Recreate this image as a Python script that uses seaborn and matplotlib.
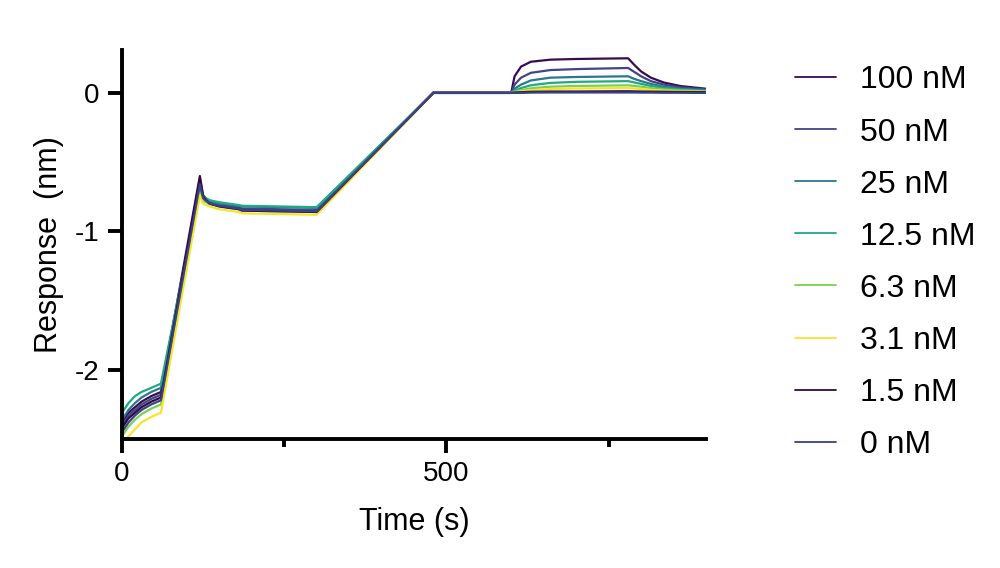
import matplotlib
matplotlib.use("Agg")
import matplotlib.pyplot as plt
import seaborn as sns
import pandas as pd
from matplotlib.ticker import FixedLocator

# ---- data ----
time_s = [0, 10, 20, 30, 45, 60, 120, 125, 135, 150, 180, 185, 240, 300,
          480, 600, 605, 615, 630, 660, 700, 780, 790, 800, 815, 835, 860, 900]

concentrations = ["100 nM", "50 nM", "25 nM", "12.5 nM", "6.3 nM", "3.1 nM", "1.5 nM", "0 nM"]

resp_100 = [-2.38, -2.31, -2.27, -2.23, -2.19, -2.16, -0.60, -0.74, -0.79, -0.81, -0.83, -0.845, -0.85, -0.855,
            0.005, 0.005, 0.12, 0.19, 0.225, 0.24, 0.245, 0.25, 0.20, 0.155, 0.11, 0.075, 0.05, 0.03]
resp_50 = [-2.40, -2.33, -2.29, -2.25, -2.21, -2.18, -0.68, -0.76, -0.795, -0.81, -0.825, -0.835, -0.84, -0.845,
           0.0, 0.0, 0.06, 0.11, 0.145, 0.165, 0.172, 0.18, 0.15, 0.12, 0.085, 0.06, 0.04, 0.025]
resp_25 = [-2.36, -2.29, -2.24, -2.20, -2.16, -2.13, -0.70, -0.75, -0.78, -0.80, -0.815, -0.82, -0.825, -0.83,
           0.0, 0.0, 0.03, 0.06, 0.09, 0.11, 0.115, 0.12, 0.10, 0.085, 0.065, 0.045, 0.03, 0.02]
resp_12_5 = [-2.31, -2.24, -2.19, -2.16, -2.13, -2.10, -0.70, -0.75, -0.775, -0.79, -0.81, -0.815, -0.82, -0.825,
             0.0, 0.0, 0.015, 0.035, 0.055, 0.072, 0.08, 0.085, 0.075, 0.065, 0.05, 0.035, 0.025, 0.015]
resp_6_3 = [-2.48, -2.41, -2.36, -2.32, -2.28, -2.25, -0.72, -0.78, -0.80, -0.82, -0.84, -0.85, -0.855, -0.86,
            0.0, 0.0, 0.01, 0.02, 0.033, 0.045, 0.05, 0.055, 0.05, 0.045, 0.035, 0.025, 0.018, 0.01]
resp_3_1 = [-2.56, -2.48, -2.43, -2.38, -2.34, -2.31, -0.74, -0.80, -0.82, -0.84, -0.86, -0.87, -0.875, -0.88,
            0.0, 0.0, 0.005, 0.012, 0.02, 0.028, 0.032, 0.035, 0.032, 0.028, 0.022, 0.016, 0.012, 0.008]
resp_1_5 = [-2.42, -2.35, -2.31, -2.27, -2.23, -2.20, -0.62, -0.75, -0.80, -0.82, -0.84, -0.85, -0.855, -0.86,
            0.0, 0.0, 0.003, 0.005, 0.008, 0.01, 0.01, 0.012, 0.011, 0.01, 0.009, 0.008, 0.007, 0.005]
resp_0 = [-2.45, -2.38, -2.33, -2.29, -2.25, -2.22, -0.66, -0.76, -0.80, -0.815, -0.835, -0.845, -0.85, -0.855,
          0.0, 0.0, 0.0, 0.0, 0.002, 0.003, 0.003, 0.003, 0.003, 0.002, 0.002, 0.001, 0.001, 0.0]

series = [resp_100, resp_50, resp_25, resp_12_5, resp_6_3, resp_3_1, resp_1_5, resp_0]

colors = ["#3a0a4f", "#414487", "#2a788e", "#22a884", "#7ad151", "#f5e52a", "#2e0b3e", "#3b4185"]

x_major = [0, 500]
x_minor = [250, 750]
y_ticks = [0, -1, -2]

# ---- build long table ----
rows = []
for conc, vals in zip(concentrations, series):
    for t, v in zip(time_s, vals):
        rows.append({"Time": t, "Response": v, "Conc": conc})
df = pd.DataFrame(rows)

sns.set_theme(style="ticks")
plt.rcParams["font.family"] = ["Liberation Sans", "DejaVu Sans"]
plt.rcParams["text.color"] = "black"

palette = dict(zip(concentrations, colors))

fig = plt.figure(figsize=(10, 5.68), dpi=100)
ax = fig.add_axes([0.122, 0.227, 0.584, 0.685])

sns.lineplot(data=df, x="Time", y="Response", hue="Conc", hue_order=concentrations,
             palette=palette, sort=False, estimator=None, linewidth=1.6, ax=ax, legend=False)

ax.set_xlim(0, 900)
ax.set_ylim(-2.5, 0.31)
ax.xaxis.set_major_locator(FixedLocator(x_major))
ax.xaxis.set_minor_locator(FixedLocator(x_minor))
ax.yaxis.set_major_locator(FixedLocator(y_ticks))
ax.set_yticklabels([str(v) for v in y_ticks])
ax.set_xticklabels([str(v) for v in x_major])

for side in ["top", "right"]:
    ax.spines[side].set_visible(False)
for side in ["left", "bottom"]:
    ax.spines[side].set_linewidth(2.8)
    ax.spines[side].set_color("black")

ax.tick_params(axis="both", which="major", length=10, width=2.8, color="black",
               labelsize=20, labelcolor="black", pad=6, direction="out")
ax.tick_params(axis="x", which="minor", length=6, width=2.8, color="black", direction="out")

ax.set_xlabel("Time (s)", fontsize=22, labelpad=14, color="black")
ax.set_ylabel("Response  (nm)", fontsize=22, labelpad=8, color="black")

handles = [plt.Line2D([0], [0], color=palette[c], lw=1.3) for c in concentrations]
leg = ax.legend(handles, concentrations, loc="upper left", bbox_to_anchor=(1.13, 0.993),
                frameon=False, fontsize=23, handlelength=1.3, handletextpad=0.75,
                labelspacing=0.69, borderaxespad=0)
for txt in leg.get_texts():
    txt.set_color("black")

fig.savefig("out.png", dpi=100, facecolor="white")
